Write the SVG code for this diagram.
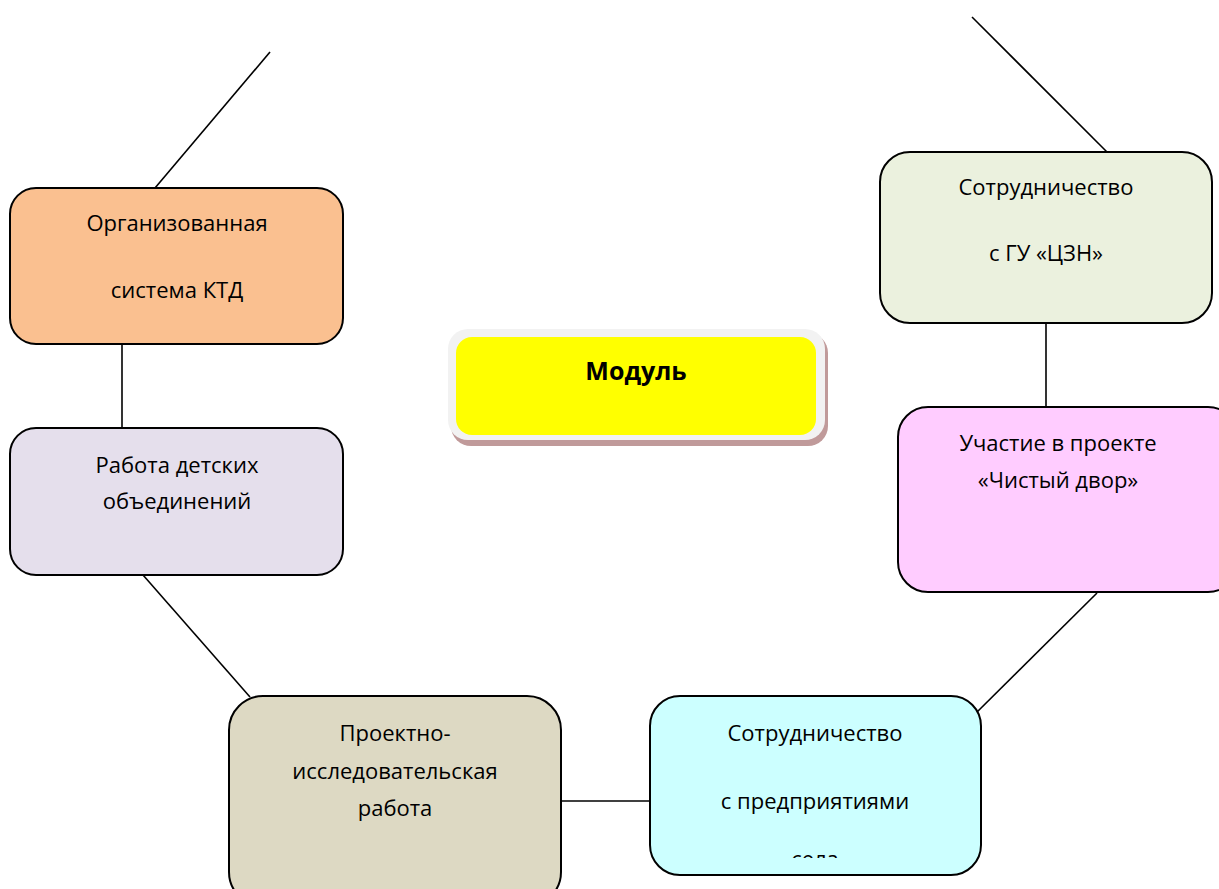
<svg xmlns="http://www.w3.org/2000/svg" width="1219" height="889" viewBox="0 0 1219 889">
<defs>
<style>
.box{stroke:#000;stroke-width:2}
.t{font-family:"Open Sans","Liberation Sans",sans-serif;font-size:22px;fill:#000;text-anchor:middle}
.c{stroke:#000;stroke-width:1.6;fill:none}
</style>
<clipPath id="clipC"><rect x="650" y="696" width="331" height="162"/></clipPath>
</defs>
<rect width="1219" height="889" fill="#fff"/>
<g id="connectors">
<line class="c" x1="270" y1="52" x2="155" y2="188"/>
<line class="c" x1="122" y1="344" x2="122" y2="428"/>
<line class="c" x1="143" y1="575" x2="250" y2="697"/>
<line class="c" x1="561" y1="801" x2="650" y2="801"/>
<line class="c" x1="972" y1="717" x2="1097" y2="593"/>
<line class="c" x1="1046" y1="323" x2="1046" y2="407"/>
<line class="c" x1="972" y1="17" x2="1107" y2="152"/>
</g>
<g id="node-ktd">
<rect class="box" x="10" y="188" width="333" height="156" rx="26" fill="#FAC090"/>
<text class="t" x="177" y="231">Организованная</text>
<text class="t" x="177" y="298">система КТД</text>
</g>
<g id="node-obed">
<rect class="box" x="10" y="428" width="333" height="147" rx="26" fill="#E5DFEC"/>
<text class="t" x="177" y="473">Работа детских</text>
<text class="t" x="177" y="509">объединений</text>
</g>
<g id="node-proekt">
<rect class="box" x="229" y="696" width="332" height="210" rx="34" fill="#DDD9C3"/>
<text class="t" x="395" y="741">Проектно-</text>
<text class="t" x="395" y="779">исследовательская</text>
<text class="t" x="395" y="816">работа</text>
</g>
<g id="node-predpr">
<rect class="box" x="650" y="696" width="331" height="179" rx="30" fill="#CCFFFF"/>
<text class="t" x="815" y="741">Сотрудничество</text>
<text class="t" x="815" y="809">с предприятиями</text>
<text class="t" x="815" y="867" clip-path="url(#clipC)">села</text>
</g>
<g id="node-czn">
<rect class="box" x="880" y="152" width="332" height="171" rx="30" fill="#EBF1DE"/>
<text class="t" x="1046" y="195">Сотрудничество</text>
<text class="t" x="1046" y="261">с ГУ «ЦЗН»</text>
</g>
<g id="node-dvor">
<rect class="box" x="898" y="407" width="340" height="185" rx="30" fill="#FFCCFF"/>
<text class="t" x="1058" y="451">Участие в проекте</text>
<text class="t" x="1058" y="488">«Чистый двор»</text>
</g>
<g id="node-modul">
<rect x="451" y="333" width="377" height="113" rx="20" fill="#C09A9A"/>
<rect x="448" y="329" width="377" height="111" rx="20" fill="#F2F2F2"/>
<rect x="456" y="337" width="360" height="98" rx="16" fill="#FFFF00"/>
<text class="t" x="636" y="380" style="font-weight:bold;font-size:25px">Модуль</text>
</g>
</svg>
